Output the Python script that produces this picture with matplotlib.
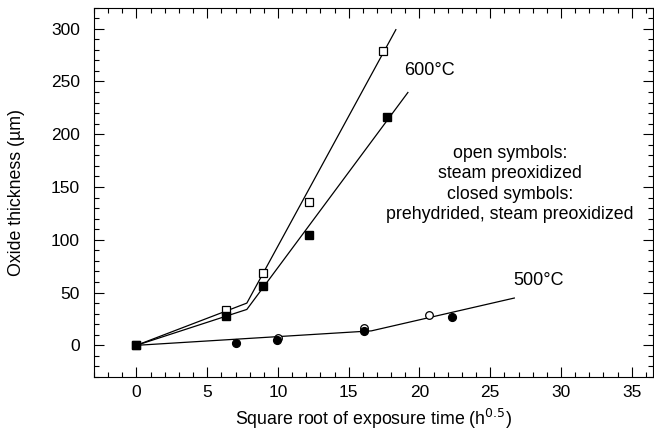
import matplotlib
matplotlib.use("Agg")
import matplotlib.pyplot as plt
from matplotlib.ticker import MultipleLocator

plt.rcParams['font.family'] = ['Liberation Sans', 'DejaVu Sans']

# 600 C, open symbols (steam preoxidized)
x600_open = [0, 6.3, 8.95, 12.2, 17.4]
y600_open = [0, 33.5, 68.5, 136, 279]
# 600 C, closed symbols (prehydrided, steam preoxidized)
x600_closed = [0, 6.3, 8.95, 12.2, 17.7]
y600_closed = [0, 28, 56, 104.5, 216]
# 500 C, open circles
x500_open = [10.0, 16.1, 20.7]
y500_open = [7, 16.8, 29]
# 500 C, closed circles
x500_closed = [7.0, 9.95, 16.1, 22.3]
y500_closed = [2.2, 5.4, 13.5, 27.2]
# fit lines
fit600_open_x = [0, 7.8, 18.33]
fit600_open_y = [0, 40, 299]
fit600_closed_x = [0, 7.8, 19.18]
fit600_closed_y = [0, 34, 239.5]
fit500_x = [0, 16.6, 26.7]
fit500_y = [0, 13.7, 44.8]

fig = plt.figure(figsize=(6.54, 4.38), dpi=100)
ax = fig.add_axes([94/654, 1-377/438, (653-94)/654, (377-7.5)/438])

lw = 0.9
ax.plot(fit600_open_x, fit600_open_y, color='black', lw=lw)
ax.plot(fit600_closed_x, fit600_closed_y, color='black', lw=lw)
ax.plot(fit500_x, fit500_y, color='black', lw=lw)

ax.plot(x500_open, y500_open, 'o', mfc='white', mec='black', ms=5.5, mew=0.9, ls='none')
ax.plot(x500_closed, y500_closed, 'o', mfc='black', mec='black', ms=5.6, ls='none')
ax.plot(x600_open, y600_open, 's', mfc='white', mec='black', ms=5.5, mew=0.9, ls='none')
ax.plot(x600_closed, y600_closed, 's', mfc='black', mec='black', ms=5.9, ls='none')

ax.set_xlim(-3, 36.5)
ax.set_ylim(-30, 320)
ax.xaxis.set_major_locator(MultipleLocator(5))
ax.xaxis.set_minor_locator(MultipleLocator(1))
ax.yaxis.set_major_locator(MultipleLocator(50))
ax.yaxis.set_minor_locator(MultipleLocator(10))
ax.tick_params(which='both', direction='in', top=True, right=True, width=0.8, labelsize=12.5)
ax.tick_params(which='major', length=7)
ax.tick_params(which='minor', length=3.5)
ax.tick_params(axis='x', which='major', pad=6)
ax.tick_params(axis='y', which='major', pad=10)
for s in ax.spines.values():
    s.set_linewidth(0.8)

ax.text(18.9, 260, '600°C', fontsize=13, ha='left', va='center')
ax.text(26.6, 61.6, '500°C', fontsize=13, ha='left', va='center')
ax.text(26.4, 153, 'open symbols:\nsteam preoxidized\nclosed symbols:\nprehydrided, steam preoxidized',
        fontsize=12.8, ha='center', va='center', linespacing=1.27)

ax.set_xlabel('Square root of exposure time (h$^{0.5}$)', fontsize=12.8, labelpad=5)
ax.set_ylabel('Oxide thickness (µm)', fontsize=12.8, labelpad=19)

fig.savefig('out.png', dpi=100)
